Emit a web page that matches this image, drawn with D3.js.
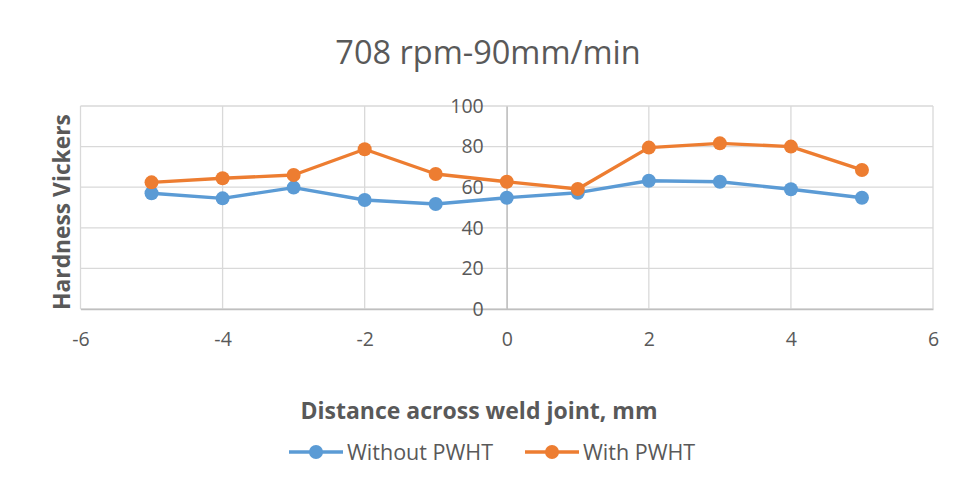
<!DOCTYPE html>
<html>
<head>
<meta charset="utf-8">
<script src="https://cdn.jsdelivr.net/npm/d3@7/dist/d3.min.js"></script>
<style>
  html, body { margin: 0; padding: 0; background: #fff; }
  svg { display: block; font-family: "Open Sans", Lato, sans-serif; }
</style>
</head>
<body>
<svg id="chart" width="961" height="489"></svg>
<script>
// Hardness profile across the weld joint
const distances = [-5, -4, -3, -2, -1, 0, 1, 2, 3, 4, 5];
const withoutPWHT = [57.0, 54.5, 59.8, 53.7, 51.7, 54.8, 57.3, 63.2, 62.7, 59.0, 54.8];
const withPWHT = [62.4, 64.4, 66.0, 78.7, 66.5, 62.7, 59.1, 79.5, 81.6, 80.0, 68.5];
const xTicks = [-6, -4, -2, 0, 2, 4, 6];
const yTicks = [0, 20, 40, 60, 80, 100];
const seriesNames = ["Without PWHT", "With PWHT"];
const colors = ["#5b9bd5", "#ed7d31"];

const svg = d3.select("#chart");
const textColor = "#595959";

const x = d3.scaleLinear().domain([-6, 6]).range([80.5, 933]);
const y = d3.scaleLinear().domain([0, 100]).range([309, 106]);

// gridlines
const grid = svg.append("g");
grid.selectAll("line.h").data(yTicks).join("line")
  .attr("x1", x(-6)).attr("x2", x(6))
  .attr("y1", d => y(d)).attr("y2", d => y(d))
  .attr("stroke", "#d9d9d9").attr("stroke-width", 1.3);
grid.selectAll("line.v").data(xTicks).join("line")
  .attr("y1", y(0)).attr("y2", y(100))
  .attr("x1", d => x(d)).attr("x2", d => x(d))
  .attr("stroke", "#d9d9d9").attr("stroke-width", 1.3);

// axes crossing at the origin
const fmt = d => String(d);
const xAxis = d3.axisBottom(x).tickValues(xTicks).tickFormat(fmt).tickSize(0).tickPadding(23);
const gx = svg.append("g").attr("transform", `translate(0,${y(0)})`).call(xAxis);
gx.select(".domain").attr("stroke", "#bfbfbf").attr("stroke-width", 1.3);
gx.selectAll("text").attr("fill", textColor).style("font-size", "19.5px")
  .style("font-family", "'Open Sans', sans-serif");

const yAxis = d3.axisLeft(y).tickValues(yTicks).tickFormat(fmt).tickSize(0).tickPadding(23);
const gy = svg.append("g").attr("transform", `translate(${x(0)},0)`).call(yAxis);
gy.select(".domain").attr("stroke", "#bfbfbf").attr("stroke-width", 1.3);
gy.selectAll("text").attr("fill", textColor).style("font-size", "19.5px")
  .style("font-family", "'Open Sans', sans-serif");

// series
const seriesData = [withoutPWHT, withPWHT];
const line = d3.line().x((d, i) => x(distances[i])).y(d => y(d));
seriesData.forEach((vals, s) => {
  const g = svg.append("g");
  g.append("path").datum(vals).attr("d", line)
    .attr("fill", "none").attr("stroke", colors[s]).attr("stroke-width", 3.4)
    .attr("stroke-linejoin", "round");
  g.selectAll("circle").data(vals).join("circle")
    .attr("cx", (d, i) => x(distances[i])).attr("cy", d => y(d))
    .attr("r", 7).attr("fill", colors[s]);
});

// titles
svg.append("text").attr("x", 488).attr("y", 64).attr("text-anchor", "middle")
  .attr("fill", textColor).style("font-size", "32.5px").text("708 rpm-90mm/min");
svg.append("text").attr("transform", "translate(70,212) rotate(-90)")
  .attr("text-anchor", "middle").attr("fill", textColor)
  .style("font-size", "22.8px").style("font-weight", "bold").text("Hardness Vickers");
svg.append("text").attr("x", 479).attr("y", 419).attr("text-anchor", "middle")
  .attr("fill", textColor).style("font-size", "23px").style("font-weight", "bold")
  .text("Distance across weld joint, mm");

// legend
const legendX = [289, 525];
seriesNames.forEach((name, s) => {
  const g = svg.append("g").attr("transform", `translate(${legendX[s]},452)`);
  g.append("line").attr("x1", 0).attr("x2", 54).attr("stroke", colors[s]).attr("stroke-width", 3.4);
  g.append("circle").attr("cx", 27).attr("r", 7).attr("fill", colors[s]);
  g.append("text").attr("x", 58).attr("y", 7.5).attr("fill", textColor)
    .style("font-size", "21.5px").text(name);
});
</script>
</body>
</html>
